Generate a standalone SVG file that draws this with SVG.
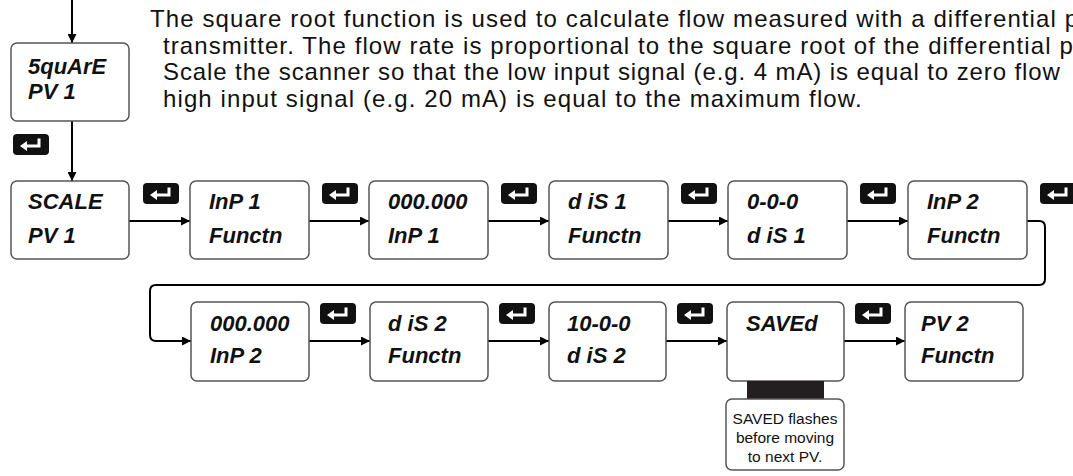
<svg xmlns="http://www.w3.org/2000/svg" width="1073" height="476" viewBox="0 0 1073 476">
<style>
.box{fill:#fff;stroke:#555;stroke-width:1.5}
.lcd{font-family:"Liberation Sans",Arial,sans-serif;font-weight:bold;font-style:italic;font-size:22px;fill:#111}
.para{font-family:"Liberation Sans",Arial,sans-serif;font-size:24px;letter-spacing:1.1px;fill:#111}
.note{font-family:"Liberation Sans",Arial,sans-serif;font-size:15.5px;fill:#111;text-anchor:middle}
.conn{fill:none;stroke:#000;stroke-width:2}
.key{fill:#111}
.keyarrow{fill:none;stroke:#fff;stroke-width:3}
</style>
<defs>
<marker id="ah" viewBox="0 0 10 10" refX="10" refY="5" markerWidth="11" markerHeight="9" markerUnits="userSpaceOnUse" orient="auto">
<path d="M0,0 L10,5 L0,10 z" fill="#000"/>
</marker>
<g id="enter">
<rect x="0" y="0" width="36" height="21" rx="4" class="key"/>
<path d="M26,4.5 V12 H12" class="keyarrow"/>
<path d="M7,12 L14,7 L14,17 z" fill="#fff"/>
</g>
</defs>

<g id="description">
<text class="para" x="150" y="27">The square root function is used to calculate flow measured with a differential p</text>
<text class="para" x="163" y="53.7">transmitter. The flow rate is proportional to the square root of the differential p</text>
<text class="para" x="163" y="80.4" style="letter-spacing:0.9px">Scale the scanner so that the low input signal (e.g. 4 mA) is equal to zero flow</text>
<text class="para" x="163" y="107.1">high input signal (e.g. 20 mA) is equal to the maximum flow.</text>
</g>

<g id="connectors">
<path class="conn" d="M72,0 V43" marker-end="url(#ah)"/>
<path class="conn" d="M72,121 V181" marker-end="url(#ah)"/>
<path class="conn" d="M129,221 H190" marker-end="url(#ah)"/>
<path class="conn" d="M309,221 H369" marker-end="url(#ah)"/>
<path class="conn" d="M488,221 H549" marker-end="url(#ah)"/>
<path class="conn" d="M668,221 H728" marker-end="url(#ah)"/>
<path class="conn" d="M847,221 H908" marker-end="url(#ah)"/>
<path class="conn" d="M1027,221 H1039 Q1045,221 1045,227 V279 Q1045,285 1039,285 H156 Q150,285 150,291 V335 Q150,341 156,341 H191" marker-end="url(#ah)"/>
<path class="conn" d="M309,341 H370" marker-end="url(#ah)"/>
<path class="conn" d="M488,341 H549" marker-end="url(#ah)"/>
<path class="conn" d="M666,341 H727" marker-end="url(#ah)"/>
<path class="conn" d="M844,341 H905" marker-end="url(#ah)"/>
</g>

<g id="enter-keys">
<use href="#enter" x="13" y="134"/>
<use href="#enter" x="143" y="183"/>
<use href="#enter" x="322" y="183"/>
<use href="#enter" x="501" y="183"/>
<use href="#enter" x="681" y="183"/>
<use href="#enter" x="860" y="183"/>
<use href="#enter" x="1040" y="183"/>
<use href="#enter" x="320" y="303"/>
<use href="#enter" x="499" y="303"/>
<use href="#enter" x="677" y="303"/>
<use href="#enter" x="855" y="303"/>
</g>

<g id="node-square">
<rect class="box" x="11" y="43" width="118" height="78" rx="6"/>
<text class="lcd" x="28" y="74">5quArE</text>
<text class="lcd" x="28" y="99">PV 1</text>
</g>
<g id="node-scale">
<rect class="box" x="11" y="181" width="118" height="78" rx="6"/>
<text class="lcd" x="28" y="209">SCALE</text>
<text class="lcd" x="28" y="243">PV 1</text>
</g>
<g id="node-inp1-functn">
<rect class="box" x="190" y="181" width="119" height="78" rx="6"/>
<text class="lcd" x="209" y="209">InP 1</text>
<text class="lcd" x="209" y="243">Functn</text>
</g>
<g id="node-inp1-value">
<rect class="box" x="369" y="181" width="119" height="78" rx="6"/>
<text class="lcd" x="388" y="209">000.000</text>
<text class="lcd" x="388" y="243">InP 1</text>
</g>
<g id="node-dis1-functn">
<rect class="box" x="549" y="181" width="119" height="78" rx="6"/>
<text class="lcd" x="568" y="209">d iS 1</text>
<text class="lcd" x="568" y="243">Functn</text>
</g>
<g id="node-dis1-value">
<rect class="box" x="728" y="181" width="119" height="78" rx="6"/>
<text class="lcd" x="747" y="209">0-0-0</text>
<text class="lcd" x="747" y="243">d iS 1</text>
</g>
<g id="node-inp2-functn">
<rect class="box" x="908" y="181" width="119" height="78" rx="6"/>
<text class="lcd" x="927" y="209">InP 2</text>
<text class="lcd" x="927" y="243">Functn</text>
</g>

<g id="node-inp2-value">
<rect class="box" x="191" y="302" width="118" height="79" rx="6"/>
<text class="lcd" x="210" y="331">000.000</text>
<text class="lcd" x="210" y="363">InP 2</text>
</g>
<g id="node-dis2-functn">
<rect class="box" x="370" y="302" width="118" height="79" rx="6"/>
<text class="lcd" x="388" y="331">d iS 2</text>
<text class="lcd" x="388" y="363">Functn</text>
</g>
<g id="node-dis2-value">
<rect class="box" x="549" y="302" width="117" height="79" rx="6"/>
<text class="lcd" x="567" y="331">10-0-0</text>
<text class="lcd" x="567" y="363">d iS 2</text>
</g>
<g id="node-saved">
<rect class="box" x="727" y="302" width="117" height="79" rx="6"/>
<text class="lcd" x="746" y="331">SAVEd</text>
</g>
<g id="node-pv2-functn">
<rect class="box" x="905" y="302" width="118" height="79" rx="6"/>
<text class="lcd" x="921" y="331">PV 2</text>
<text class="lcd" x="921" y="363">Functn</text>
</g>

<g id="note-saved">
<rect x="747" y="381" width="77" height="18" fill="#231f20"/>
<rect class="box" x="726" y="399" width="118" height="71" rx="6"/>
<text class="note" x="785" y="424">SAVED flashes</text>
<text class="note" x="785" y="443">before moving</text>
<text class="note" x="785" y="462">to next PV.</text>
</g>
</svg>
